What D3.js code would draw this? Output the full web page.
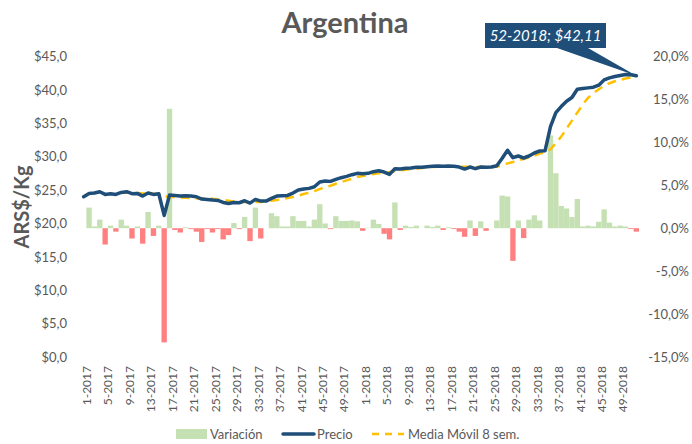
<!DOCTYPE html>
<html><head><meta charset="utf-8">
<script src="https://cdn.jsdelivr.net/npm/d3@7"></script>
<style>
html,body{margin:0;padding:0;background:#fff;}
svg{display:block;font-family:Lato,"Open Sans",sans-serif;}
</style></head>
<body>
<svg id="chart" width="692" height="444"></svg>
<script>
// ---- DATA ----
const years = [2017, 2018];
const weeksPerYear = 52;
const categories = [];
years.forEach(y => { for (let w = 1; w <= weeksPerYear; w++) categories.push(w + "-" + y); });

// Weekly price (ARS$/Kg)
const price = [
 24.0, 24.5, 24.55, 24.75, 24.35, 24.45, 24.35, 24.65, 24.75, 24.45,
 24.5, 24.1, 24.55, 24.35, 24.45, 21.2, 24.25, 24.2, 24.1, 24.15,
 24.1, 24.0, 23.65, 23.6, 23.5, 23.45, 23.15, 23.0, 23.15, 23.1,
 23.4, 23.05, 23.6, 23.35, 23.35, 23.75, 24.1, 24.15, 24.2, 24.55,
 25.0, 25.15, 25.25, 25.5, 26.2, 26.35, 26.3, 26.6, 26.85, 27.05,
 27.3, 27.5, 27.45, 27.5, 27.75, 27.9, 27.7, 27.35, 28.2, 28.15,
 28.25, 28.3, 28.4, 28.4, 28.5, 28.55, 28.6, 28.55, 28.6, 28.55,
 28.45, 28.15, 28.45, 28.2, 28.45, 28.4, 28.45, 28.65, 29.75, 30.95,
 29.85, 30.1, 29.8, 30.1, 30.55, 30.85, 30.9, 34.5, 36.6, 37.5,
 38.3, 38.85, 40.1, 40.2, 40.3, 40.4, 40.7, 41.5, 41.8, 42.0,
 42.15, 42.3, 42.28, 42.11
];

// Weekly variation (%)
const variation = [
 0, 2.4, 0.2, 1.0, -1.9, 0.3, -0.4, 1.0, 0.3, -1.2,
 0.2, -1.8, 1.9, -0.9, 0.3, -13.3, 13.9, -0.2, -0.5, 0.1,
 -0.1, -0.4, -1.6, -0.1, -0.5, -0.1, -1.3, -0.8, 0.6, -0.1,
 1.3, -1.5, 2.4, -1.2, 0.0, 1.75, 1.4, 0.2, 0.2, 1.4,
 0.85, 0.85, 0.2, 1.0, 2.8, 0.55, -0.1, 1.4, 0.85, 0.85,
 0.9, 0.8, -0.3, 0.05, 1.0, 0.5, -0.65, -1.3, 3.0, -0.2,
 0.3, 0.15, 0.3, 0.0, 0.3, 0.15, 0.3, -0.2, 0.1, -0.1,
 -0.4, -1.0, 0.9, -0.9, 0.8, -0.3, 0.0, 0.9, 3.8, 3.7,
 -3.8, 0.9, -1.15, 1.0, 1.5, 0.9, 0.0, 10.8, 6.4, 2.6,
 2.3, 1.3, 3.4, 0.2, 0.3, 0.2, 0.75, 2.2, 0.65, 0.2,
 0.3, 0.2, -0.1, -0.4
];

// 8-week moving average (ARS$/Kg)
const movingAvg = [
 null, null, null, null, null, null, null, 24.6, 24.6, 24.6,
 24.55, 24.5, 24.5, 24.45, 24.4, 24.05, 23.95, 23.95, 23.9, 23.85,
 23.8, 23.75, 23.7, 23.75, 23.7, 23.6, 23.5, 23.4, 23.3, 23.25,
 23.2, 23.15, 23.2, 23.2, 23.3, 23.4, 23.5, 23.65, 23.8, 23.95,
 24.15, 24.4, 24.6, 24.85, 25.15, 25.4, 25.65, 25.95, 26.2, 26.45,
 26.7, 26.95, 27.1, 27.25, 27.4, 27.5, 27.6, 27.7, 27.85, 27.95,
 28.05, 28.15, 28.2, 28.3, 28.4, 28.45, 28.5, 28.5, 28.5, 28.5,
 28.5, 28.5, 28.5, 28.45, 28.45, 28.45, 28.45, 28.5, 28.7, 29.0,
 29.2, 29.45, 29.65, 29.9, 30.15, 30.45, 30.65, 31.1, 32.0, 33.0,
 34.2, 35.4, 36.6, 37.8, 38.8, 39.5, 40.1, 40.6, 41.0, 41.3,
 41.5, 41.7, 41.85, 41.9
];

const leftTicks = [0, 5, 10, 15, 20, 25, 30, 35, 40, 45];
const rightTicks = [-15, -10, -5, 0, 5, 10, 15, 20];
const tickEvery = 4;
const title = "Argentina";
const yTitle = "ARS$/Kg";
const legendLabels = ["Variación", "Precio", "Media Móvil 8 sem."];
const annotationText = "52-2018; $42,11";

// ---- DRAW ----
const svg = d3.select("#chart");
const textColor = "#595959";
const cGreen = "#C5E0B3", cRed = "#FF8080", cBlue = "#1F4E79", cYellow = "#FFC000";

const x = d3.scaleBand().domain(categories).range([81, 639]).padding(0);
const yL = d3.scaleLinear().domain([0, 45]).range([357, 56.5]);
const yR = d3.scaleLinear().domain([-15, 20]).range([357, 56.5]);
const cx = d => x(d) + x.bandwidth() / 2;
const fmt1 = v => d3.format(".1f")(v).replace("\u2212", "-").replace(".", ",");

// Title
svg.append("text").attr("x", 345).attr("y", 33).attr("text-anchor", "middle")
  .attr("font-size", 29).attr("font-weight", "bold").attr("fill", textColor).text(title);

// Left axis
const axL = d3.axisLeft(yL).tickValues(leftTicks).tickSize(0).tickPadding(0)
  .tickFormat(d => "$" + fmt1(d));
const gL = svg.append("g").attr("transform", "translate(67,0)").call(axL);
gL.select(".domain").remove();
gL.selectAll("text").attr("font-size", 13).attr("fill", textColor).attr("font-family", "Lato");

// Right axis (right-aligned labels)
const axR = d3.axisRight(yR).tickValues(rightTicks).tickSize(0).tickPadding(0)
  .tickFormat(d => fmt1(d) + "%");
const gR = svg.append("g").attr("transform", "translate(689,0)").call(axR);
gR.select(".domain").remove();
gR.selectAll("text").attr("font-size", 13).attr("fill", textColor).attr("font-family", "Lato")
  .attr("text-anchor", "end").attr("x", 0);

// Y title
svg.append("text").attr("transform", "translate(29,207) rotate(-90)")
  .attr("text-anchor", "middle").attr("font-size", 20).attr("font-weight", "bold")
  .attr("fill", textColor).text(yTitle);

// X axis labels
const axX = d3.axisBottom(x).tickValues(categories.filter((d, i) => i % tickEvery === 0))
  .tickSize(0).tickPadding(0);
const gX = svg.append("g").attr("transform", "translate(0,366)").call(axX);
gX.select(".domain").remove();
gX.selectAll("text").attr("font-size", 12).attr("fill", textColor).attr("font-family", "Lato")
  .attr("text-anchor", "end").attr("transform", "translate(3,0) rotate(-90)")
  .attr("x", 0).attr("y", 0).attr("dy", "0.35em");

// Bars
svg.append("g").selectAll("rect").data(variation.map((v, i) => ({v, c: categories[i]})))
  .join("rect")
  .attr("x", d => x(d.c)).attr("width", x.bandwidth())
  .attr("y", d => Math.min(yR(d.v), yR(0)))
  .attr("height", d => Math.abs(yR(d.v) - yR(0)))
  .attr("fill", d => d.v >= 0 ? cGreen : cRed);

// Moving average
const maLine = d3.line().defined(d => d.v != null).x(d => cx(d.c)).y(d => yL(d.v));
svg.append("path").datum(movingAvg.map((v, i) => ({v, c: categories[i]})))
  .attr("d", maLine).attr("fill", "none").attr("stroke", cYellow)
  .attr("stroke-width", 2.5).attr("stroke-dasharray", "9,6");

// Price
const pLine = d3.line().x(d => cx(d.c)).y(d => yL(d.v));
svg.append("path").datum(price.map((v, i) => ({v, c: categories[i]})))
  .attr("d", pLine).attr("fill", "none").attr("stroke", cBlue)
  .attr("stroke-width", 3.5).attr("stroke-linejoin", "round").attr("stroke-linecap", "round");

// Annotation callout
const last = categories.length - 1;
const px = cx(categories[last]), py = yL(price[last]);
const bx0 = 485, bx1 = 606, by0 = 23, by1 = 48;
svg.append("path")
  .attr("d", `M${bx0},${by0}H${bx1}V${by1}H588L${px},${py}L557,${by1}H${bx0}Z`)
  .attr("fill", cBlue);
svg.append("text").attr("x", (bx0 + bx1) / 2).attr("y", 41).attr("text-anchor", "middle")
  .attr("font-size", 15).attr("font-style", "italic").attr("fill", "#fff").text(annotationText);

// Legend
const lg = svg.append("g").attr("font-size", 13).attr("fill", textColor);
lg.append("rect").attr("x", 176).attr("y", 429).attr("width", 31).attr("height", 10).attr("fill", cGreen);
lg.append("text").attr("x", 210).attr("y", 439).attr("fill", textColor).text(legendLabels[0]);
lg.append("line").attr("x1", 283).attr("x2", 314).attr("y1", 434).attr("y2", 434)
  .attr("stroke", cBlue).attr("stroke-width", 3.5).attr("stroke-linecap", "round");
lg.append("text").attr("x", 317).attr("y", 439).attr("fill", textColor).text(legendLabels[1]);
lg.append("line").attr("x1", 372).attr("x2", 404).attr("y1", 434).attr("y2", 434)
  .attr("stroke", cYellow).attr("stroke-width", 2.5).attr("stroke-dasharray", "7,6");
lg.append("text").attr("x", 408).attr("y", 439).attr("fill", textColor).text(legendLabels[2]);
</script>
</body></html>
